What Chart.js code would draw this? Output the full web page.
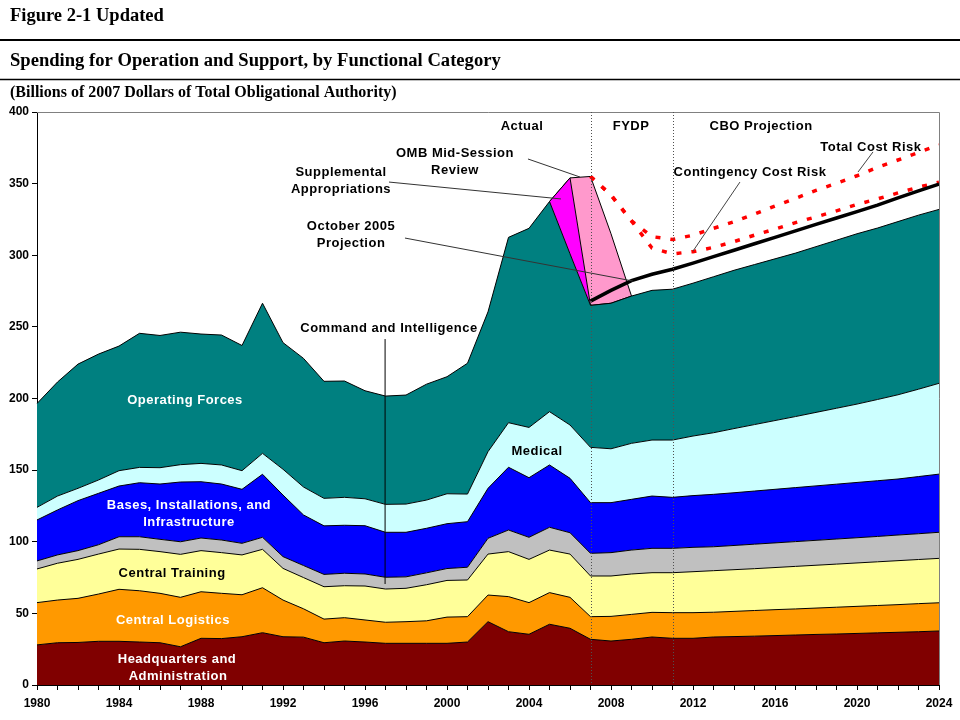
<!DOCTYPE html>
<html>
<head>
<meta charset="utf-8">
<script src="https://cdn.jsdelivr.net/npm/chart.js@4.4.0/dist/chart.umd.min.js"></script>
<style>
  html, body { margin: 0; padding: 0; background: #ffffff; }
  #wrap { width: 960px; height: 720px; position: relative; }
</style>
</head>
<body>
<div id="wrap"><canvas id="c" width="960" height="720"></canvas></div>
<script>
// ---------------- DATA ----------------
const years = ['1980','1981','1982','1983','1984','1985','1986','1987','1988','1989',
               '1990','1991','1992','1993','1994','1995','1996','1997','1998','1999',
               '2000','2001','2002','2003','2004','2005','2006','2007','2008','2009',
               '2010','2011','2012','2013','2014','2015','2016','2017','2018','2019',
               '2020','2021','2022','2023','2024'];
const xTickLabels = ['1980','1984','1988','1992','1996','2000','2004','2008','2012','2016','2020','2024'];
const yTickValues = [0, 50, 100, 150, 200, 250, 300, 350, 400];

// Stacked functional categories (billions of 2007 dollars)
const hqAdmin = [28.0, 29.5, 29.7, 30.5, 30.5, 30.0, 29.5, 26.7, 32.6, 32.4,
                 33.7, 36.5, 33.7, 33.4, 29.5, 30.7, 30.0, 29.1, 29.1, 29.1,
                 29.1, 30.0, 44.2, 37.2, 35.4, 42.4, 39.6, 31.9, 30.7, 31.9,
                 33.5, 32.6, 32.6, 33.5, 33.8, 34.1, 34.5, 34.9, 35.3, 35.6,
                 36.0, 36.4, 36.8, 37.2, 37.7];
const centralLogistics = [29.5, 29.8, 30.8, 33.0, 36.3, 35.8, 34.5, 34.5, 32.5, 31.6,
                 29.3, 31.4, 25.6, 19.8, 16.5, 16.3, 15.4, 14.7, 15.1, 15.7,
                 18.3, 17.7, 18.6, 24.5, 22.1, 22.1, 21.6, 15.8, 17.2, 17.4,
                 17.2, 17.9, 17.9, 17.3, 17.6, 17.9, 18.1, 18.2, 18.4, 18.7,
                 18.9, 19.1, 19.3, 19.6, 19.7];
const centralTraining = [23.5, 25.7, 27.2, 27.9, 28.1, 28.9, 29.1, 30.0, 28.7, 28.4,
                 27.8, 26.8, 22.1, 21.8, 22.6, 22.3, 23.7, 23.2, 23.3, 25.2,
                 25.6, 25.6, 28.6, 31.4, 30.2, 29.7, 30.2, 28.4, 28.2, 28.2,
                 27.7, 27.9, 28.6, 29.0, 29.1, 29.2, 29.4, 29.7, 29.9, 30.1,
                 30.3, 30.5, 30.7, 30.8, 31.0];
const commandIntel = [5.6, 5.8, 6.1, 6.5, 8.6, 8.8, 8.6, 8.8, 8.8, 8.8,
                 8.1, 8.4, 8.2, 8.4, 8.6, 8.7, 8.4, 8.2, 8.0, 8.3,
                 8.3, 8.9, 11.0, 15.1, 15.4, 15.9, 14.9, 15.8, 16.3, 16.7,
                 17.0, 17.0, 17.0, 16.7, 16.9, 17.1, 17.2, 17.3, 17.4, 17.5,
                 17.6, 17.7, 17.9, 18.0, 18.2];
const basesInfra = [28.6, 31.4, 34.9, 35.9, 35.4, 37.7, 38.6, 41.7, 39.3, 39.1,
                 37.7, 44.0, 43.0, 35.3, 33.9, 33.5, 33.7, 31.4, 31.1, 31.1,
                 31.3, 31.8, 34.9, 43.8, 41.6, 43.5, 38.0, 35.4, 34.9, 35.4,
                 36.5, 35.6, 36.1, 36.6, 36.8, 37.1, 37.4, 37.7, 38.0, 38.3,
                 38.6, 38.9, 39.1, 39.9, 40.6];
const medical = [8.8, 9.7, 8.6, 9.3, 10.7, 10.7, 11.4, 12.1, 12.8, 13.3,
                 13.0, 14.6, 18.0, 19.5, 19.2, 19.5, 18.8, 19.5, 19.7, 19.7,
                 20.9, 19.3, 25.6, 31.1, 35.1, 37.2, 37.2, 38.6, 37.6, 39.1,
                 39.1, 40.0, 41.6, 43.0, 44.8, 46.4, 48.0, 49.6, 51.3, 53.0,
                 54.7, 56.7, 58.8, 61.0, 63.4];
const operatingForces = [72.5, 79.6, 86.7, 87.9, 87.0, 93.6, 92.3, 92.5, 90.3, 90.7,
                 87.4, 104.8, 88.4, 89.8, 81.7, 81.2, 75.4, 75.6, 76.1, 80.9,
                 81.7, 91.3, 97.6, 129.4, 139.0, 146.7, 119.5, 99.1, 101.6, 102.8,
                 104.5, 105.3, 106.7, 108.9, 110.5, 111.7, 112.9, 114.1, 115.7, 117.3,
                 118.9, 119.7, 120.9, 121.5, 121.4];

// Additions stacked on top, years 2005-2009
const additionYears = ['2005','2006','2007','2008','2009'];
const supplemental = [0, 53, 0, 0, 0];
const ombReview    = [0, 0, 90, 48.5, 0];

// Projections (absolute totals), years 2007-2024
const projectionYears = ['2007','2008','2009','2010','2011','2012','2013','2014','2015',
                         '2016','2017','2018','2019','2020','2021','2022','2023','2024'];
const oct2005Projection = [268, 275.5, 282.3, 286.7, 290.2, 294.5, 299, 303.5, 308,
                           312.5, 317, 321.5, 326, 330.5, 335, 340, 345, 349.7];
const contingencyRisk   = [355, 342, 324, 305, 301, 302.5, 305.5, 309.5, 314,
                           318.3, 322.8, 326.8, 331, 335.5, 339.3, 343.5, 347.5, 351];
const totalCostRisk     = [355, 342, 324, 313, 311, 314, 318.8, 323.4, 328.8,
                           334.4, 339.7, 345.3, 350.2, 355.5, 361.4, 366.5, 371.8, 377];

const periodDividers = ['2007', '2011'];

// ---------------- BUILD ----------------
function alignTo(subYears, values) {
  return years.map(y => { const i = subYears.indexOf(y); return i < 0 ? null : values[i]; });
}

function area(label, data, color, fill) {
  return { label, data, backgroundColor: color, borderColor: '#000000', borderWidth: 1,
           fill, pointRadius: 0, tension: 0, order: 1 };
}
function line(label, data, color, width, dash, stack) {
  return { label, data, borderColor: color, backgroundColor: color, borderWidth: width,
           borderDash: dash, fill: false, pointRadius: 0, tension: 0, order: 0, stack,
           borderCapStyle: 'butt' };
}

const datasets = [
  area('Headquarters and Administration', hqAdmin, '#800000', 'origin'),
  area('Central Logistics', centralLogistics, '#FF9900', '-1'),
  area('Central Training', centralTraining, '#FFFF99', '-1'),
  area('Command and Intelligence', commandIntel, '#C0C0C0', '-1'),
  area('Bases, Installations, and Infrastructure', basesInfra, '#0000FF', '-1'),
  area('Medical', medical, '#CCFFFF', '-1'),
  area('Operating Forces', operatingForces, '#008080', '-1'),
  area('Supplemental Appropriations', alignTo(additionYears, supplemental), '#FF00FF', '-1'),
  area('OMB Mid-Session Review', alignTo(additionYears, ombReview), '#FF99CC', '-1'),
  line('October 2005 Projection', alignTo(projectionYears, oct2005Projection), '#000000', 3.5, [], 'proj'),
  line('Contingency Cost Risk', alignTo(projectionYears, contingencyRisk), '#FF0000', 3.5, [5, 10], 'cont'),
  line('Total Cost Risk', alignTo(projectionYears, totalCostRisk), '#FF0000', 3.5, [5, 10], 'total')
];

// Annotation text & leader lines, anchored in data space (year, value)
const labelFont = 'bold 13px "Liberation Sans", Arial, sans-serif';
const textLabels = [
  { t: 'Actual', yr: 2003.66, v: 390.2, c: '#000' },
  { t: 'FYDP', yr: 2008.98, v: 390.2, c: '#000' },
  { t: 'CBO Projection', yr: 2015.32, v: 390.2, c: '#000' },
  { t: 'OMB Mid-Session', yr: 2000.39, v: 371.4, c: '#000' },
  { t: 'Review', yr: 2000.39, v: 359.5, c: '#000' },
  { t: 'Supplemental', yr: 1994.83, v: 358.1, c: '#000' },
  { t: 'Appropriations', yr: 1994.83, v: 346.2, c: '#000' },
  { t: 'October 2005', yr: 1995.32, v: 320.4, c: '#000' },
  { t: 'Projection', yr: 1995.32, v: 308.6, c: '#000' },
  { t: 'Contingency Cost Risk', yr: 2014.78, v: 358.1, c: '#000' },
  { t: 'Total Cost Risk', yr: 2020.68, v: 375.6, c: '#000' },
  { t: 'Command and Intelligence', yr: 1997.17, v: 249.2, c: '#000' },
  { t: 'Operating Forces', yr: 1987.22, v: 199.0, c: '#fff' },
  { t: 'Bases, Installations, and', yr: 1987.41, v: 125.7, c: '#fff' },
  { t: 'Infrastructure', yr: 1987.41, v: 113.8, c: '#fff' },
  { t: 'Central Training', yr: 1986.59, v: 78.2, c: '#000' },
  { t: 'Central Logistics', yr: 1986.63, v: 45.4, c: '#fff' },
  { t: 'Headquarters and', yr: 1986.83, v: 18.2, c: '#fff' },
  { t: 'Administration', yr: 1986.88, v: 6.3, c: '#fff' },
  { t: 'Medical', yr: 2004.39, v: 163.4, c: '#000' }
];
const leaders = [
  { from: [2003.95, 367.2], to: [2006.49, 354.6], c: '#333' },
  { from: [1997.17, 351.1], to: [2005.56, 339.3], c: '#333' },
  { from: [1997.95, 312.0], to: [2009.07, 282.0], c: '#333' },
  { from: [2014.29, 351.1], to: [2012.00, 302.9], c: '#444' },
  { from: [2020.78, 372.1], to: [2020.05, 358.1], c: '#444' },
  { from: [1996.98, 241.5], to: [1996.98, 70.5], c: '#000' }
];

function yearToPx(xs, yr) {
  const p0 = xs.getPixelForValue(0), p1 = xs.getPixelForValue(years.length - 1);
  const y0 = Number(years[0]), y1 = Number(years[years.length - 1]);
  return p0 + (yr - y0) / (y1 - y0) * (p1 - p0);
}

const decor = {
  id: 'decor',
  beforeDraw(chart) {
    const ctx = chart.ctx;
    ctx.save();
    ctx.fillStyle = '#ffffff';
    ctx.fillRect(0, 0, chart.width, chart.height);
    ctx.fillStyle = '#000';
    ctx.textAlign = 'left';
    ctx.textBaseline = 'alphabetic';
    ctx.font = 'bold 18.5px "Liberation Serif", "Times New Roman", serif';
    ctx.fillText('Figure 2-1 Updated', 10, 21);
    ctx.font = 'bold 18.6px "Liberation Serif", "Times New Roman", serif';
    ctx.fillText('Spending for Operation and Support, by Functional Category', 10, 66);
    ctx.font = 'bold 16px "Liberation Serif", "Times New Roman", serif';
    ctx.fillText('(Billions of 2007 Dollars of Total Obligational Authority)', 10, 97);
    ctx.strokeStyle = '#000';
    ctx.lineWidth = 2;
    ctx.beginPath(); ctx.moveTo(0, 40); ctx.lineTo(960, 40); ctx.stroke();
    ctx.lineWidth = 1.5;
    ctx.beginPath(); ctx.moveTo(0, 79.5); ctx.lineTo(960, 79.5); ctx.stroke();
    ctx.restore();
  },
  afterDatasetsDraw(chart) {
    const { ctx, chartArea: a, scales: { x, y } } = chart;
    ctx.save();
    // plot-area frame (top and right)
    ctx.strokeStyle = '#808080';
    ctx.lineWidth = 1;
    ctx.beginPath();
    ctx.moveTo(a.left, a.top + 0.5);
    ctx.lineTo(a.right + 0.5, a.top + 0.5);
    ctx.lineTo(a.right + 0.5, a.bottom);
    ctx.stroke();
    // period dividers
    ctx.setLineDash([1, 2]);
    ctx.strokeStyle = '#505050';
    periodDividers.forEach(yr => {
      const px = Math.round(x.getPixelForValue(years.indexOf(yr))) + 0.5;
      ctx.beginPath(); ctx.moveTo(px, a.top); ctx.lineTo(px, a.bottom); ctx.stroke();
    });
    ctx.setLineDash([]);
    // leader lines
    leaders.forEach(l => {
      ctx.strokeStyle = l.c;
      ctx.lineWidth = 1;
      ctx.beginPath();
      ctx.moveTo(yearToPx(x, l.from[0]), y.getPixelForValue(l.from[1]));
      ctx.lineTo(yearToPx(x, l.to[0]), y.getPixelForValue(l.to[1]));
      ctx.stroke();
    });
    // labels
    ctx.font = labelFont;
    ctx.textAlign = 'center';
    ctx.textBaseline = 'middle';
    try { ctx.letterSpacing = '0.5px'; } catch (e) {}
    textLabels.forEach(l => {
      ctx.fillStyle = l.c;
      ctx.fillText(l.t, yearToPx(x, l.yr), y.getPixelForValue(l.v));
    });
    ctx.restore();
  }
};

new Chart(document.getElementById('c'), {
  type: 'line',
  data: { labels: years, datasets },
  plugins: [decor],
  options: {
    responsive: false,
    animation: false,
    events: [],
    layout: { padding: { top: 112, right: 21, left: 0, bottom: 0 } },
    plugins: { legend: { display: false }, tooltip: { enabled: false }, title: { display: false } },
    scales: {
      x: {
        type: 'category',
        offset: false,
        grid: { drawOnChartArea: false, tickLength: 5, color: '#000', offset: false },
        border: { color: '#000', width: 1 },
        ticks: {
          autoSkip: false, maxRotation: 0, minRotation: 0, padding: 6, color: '#000',
          font: { family: '"Liberation Sans Narrow", "Liberation Sans", Arial, sans-serif', size: 12, weight: 'bold' },
          callback: function (value) {
            const lbl = this.getLabelForValue(value);
            return xTickLabels.includes(lbl) ? lbl : '';
          }
        },
        afterFit: s => { s.height = 35; }
      },
      y: {
        stacked: true,
        min: 0, max: 400,
        grid: { drawOnChartArea: false, tickLength: 5, color: '#000' },
        border: { color: '#000', width: 1 },
        ticks: {
          color: '#000', padding: 3,
          font: { family: '"Liberation Sans", Arial, sans-serif', size: 12, weight: 'bold' }
        },
        afterBuildTicks: s => { s.ticks = yTickValues.map(v => ({ value: v })); },
        afterFit: s => { s.width = 37; }
      }
    }
  }
});
</script>
</body>
</html>
